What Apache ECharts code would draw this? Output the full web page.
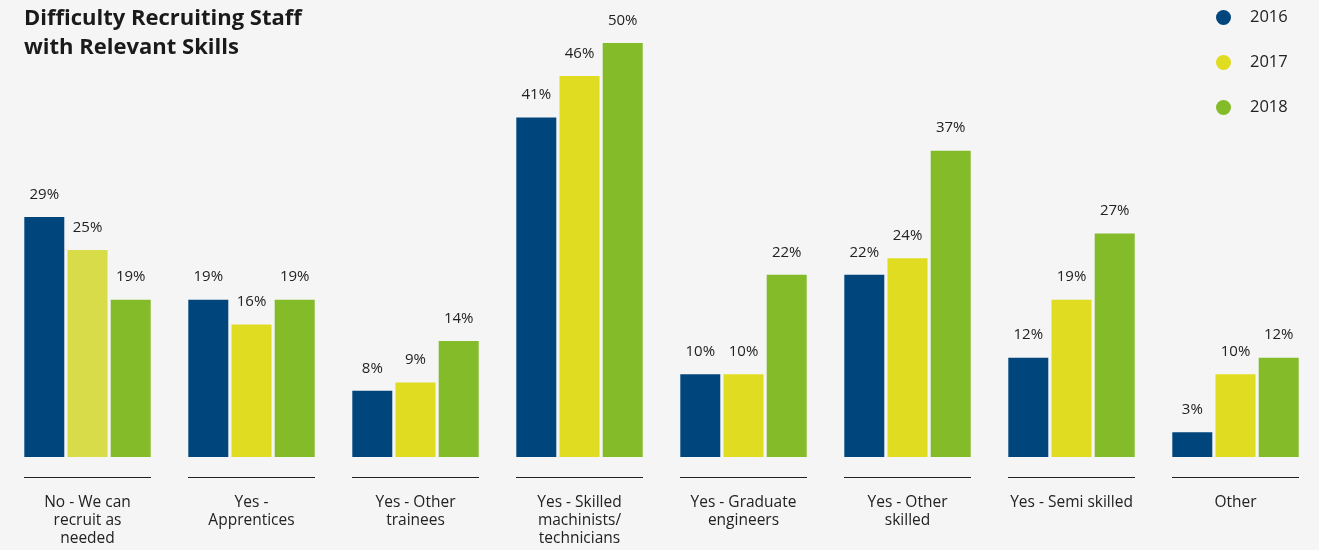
<!DOCTYPE html>
<html>
<head>
<meta charset="utf-8">
<script src="https://cdn.jsdelivr.net/npm/echarts@6/dist/echarts.min.js"></script>
<style>
html,body{margin:0;padding:0;background:#f5f5f5;}
#chart{width:1319px;height:550px;}
</style>
</head>
<body>
<div id="chart"></div>
<script>
var categories = [
  "No - We can\nrecruit as\nneeded",
  "Yes -\nApprentices",
  "Yes - Other\ntrainees",
  "Yes - Skilled\nmachinists/\ntechnicians",
  "Yes - Graduate\nengineers",
  "Yes - Other\nskilled",
  "Yes - Semi skilled",
  "Other"
];
var seriesNames = ["2016", "2017", "2018"];
var values2016 = [29, 19, 8, 41, 10, 22, 12, 3];
var values2017 = [25, 16, 9, 46, 10, 24, 19, 10];
var values2018 = [19, 19, 14, 50, 22, 37, 27, 12];

var colors = ["#00467c", "#dfdc21", "#83bb29"];
var FONT = "'Open Sans', 'Noto Sans', sans-serif";

function mkData(arr, idx) {
  return arr.map(function (v, i) {
    if (i === 0 && idx === 1) return { value: v, itemStyle: { color: "#d7dc48" } };
    return v;
  });
}

function makeBar(name, arr, idx) {
  return {
    name: name,
    type: "bar",
    barWidth: 40,
    barGap: "8%",
    data: mkData(arr, idx),
    itemStyle: { color: colors[idx] },
    label: {
      show: true,
      position: "top",
      distance: 15,
      formatter: "{c}%",
      color: "#222",
      fontSize: 15,
      fontFamily: FONT
    }
  };
}

var chart = echarts.init(document.getElementById("chart"));
chart.setOption({
  backgroundColor: "#f5f5f5",
  animation: false,
  color: colors,
  title: {
    text: "Difficulty Recruiting Staff\nwith Relevant Skills",
    left: 24,
    top: 4,
    padding: 0,
    textStyle: {
      fontFamily: FONT,
      fontWeight: "bold",
      fontSize: 22,
      lineHeight: 29,
      color: "#1a1a1a"
    }
  },
  legend: {
    orient: "vertical",
    left: 1211,
    top: 4,
    icon: "circle",
    itemWidth: 15,
    itemHeight: 15,
    itemGap: 28,
    data: seriesNames,
    textStyle: { fontFamily: FONT, fontSize: 16.5, color: "#222", padding: [0, 0, 0, 14] }
  },
  grid: { left: 5.5, right: 1.5, top: 43, bottom: 93, containLabel: false },
  xAxis: {
    type: "category",
    data: categories,
    axisLine: { show: false },
    axisTick: { show: false },
    axisLabel: {
      interval: 0,
      margin: 37,
      fontFamily: FONT,
      fontSize: 15.5,
      lineHeight: 18,
      color: "#222",
      verticalAlign: "top"
    }
  },
  yAxis: {
    type: "value",
    min: 0,
    max: 50,
    show: false,
    splitLine: { show: false }
  },
  series: [
    makeBar(seriesNames[0], values2016, 0),
    makeBar(seriesNames[1], values2017, 1),
    makeBar(seriesNames[2], values2018, 2),
    {
      type: "custom",
      name: "baseline",
      silent: true,
      data: categories.map(function (c, i) { return [i, 0]; }),
      renderItem: function (params, api) {
        var p = api.coord([api.value(0), 0]);
        var half = 63.5;
        return {
          type: "line",
          shape: { x1: p[0] - half, y1: p[1] + 20.5, x2: p[0] + half, y2: p[1] + 20.5 },
          style: { stroke: "#222", lineWidth: 1 }
        };
      },
      z: 1
    }
  ]
});
</script>
</body>
</html>
